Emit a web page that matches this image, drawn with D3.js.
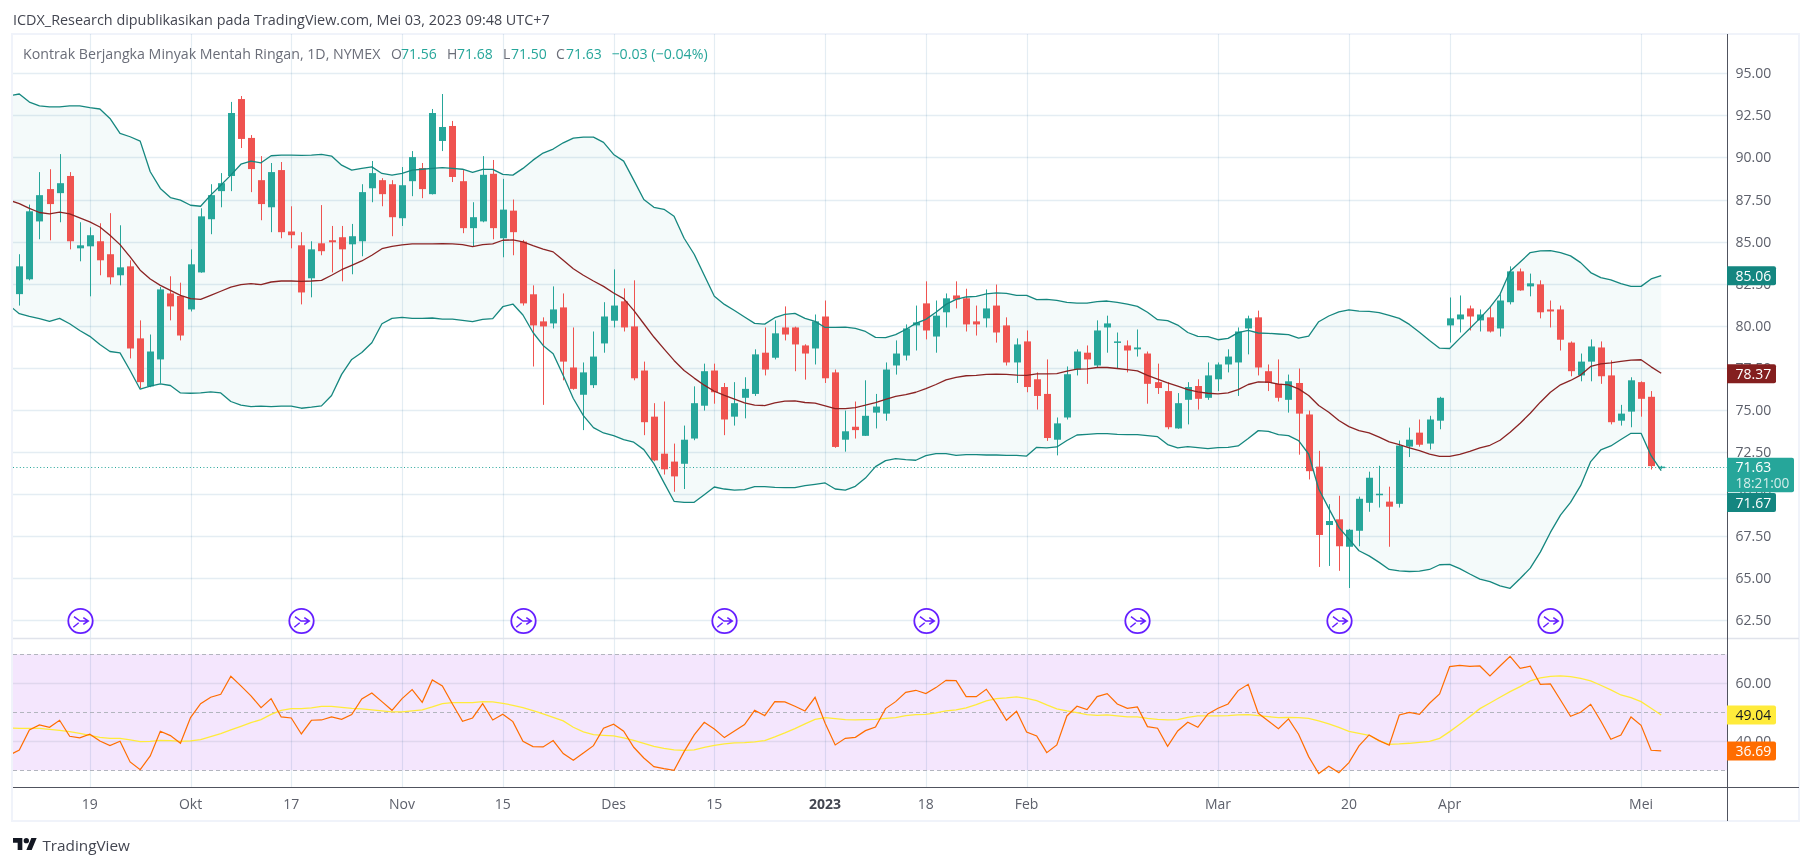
<!DOCTYPE html>
<html><head><meta charset="utf-8">
<script src="https://cdnjs.cloudflare.com/ajax/libs/d3/7.8.5/d3.min.js"></script>
<style>html,body{margin:0;padding:0;background:#fff;overflow:hidden}svg{display:block}text{font-family:"Open Sans","Liberation Sans",sans-serif}</style>
</head><body><svg id="c" width="1814" height="866"></svg>
<script>
const opens=[81.88,82.76,86.2,88.12,87.88,88.9,84.6,84.72,85.02,84.25,
83,83.53,79.25,76.4,78,81.92,81.77,80.97,83.17,86.33,
88,88.9,93.47,91.16,88.65,87.04,89.25,85.6,84.78,82.82,
84.9,85.08,85.26,84.84,85.02,88.17,88.65,88.41,86.39,88.59,
89.37,87.82,90.98,91.87,88.59,85.8,86.2,89.03,85.2,86.84,
85,81.87,80.26,80.14,81.09,77.52,75.9,76.47,78.95,80.3,
81.45,79.96,77.34,74.6,72.4,71.93,71.8,73.3,75.25,77.34,
76.36,74.6,75.72,75.95,78.4,78.1,79.9,79.9,78.83,78.65,
80.55,77.23,73.23,74,73.46,74.84,74.78,77.64,78.23,80.02,
81.33,79.36,80.8,81.8,81.63,80.26,80.44,81.2,80.02,77.82,
79.07,76.82,75.95,73.23,74.55,77.4,78.4,77.64,79.9,79.03,
78.83,78.6,78.35,76.65,76.12,73.9,75.6,76.42,75.72,76.82,
77.7,77.82,79.84,80.5,77.3,76.55,75.6,76.6,74.73,71.63,
68.16,68.5,66.87,67.82,69.48,69.96,69.55,69.42,72.82,73.65,
73,74.36,80.02,80.38,81.03,80.32,80.5,79.84,81.4,83.23,
82.34,82.46,80.97,80.97,79,77.05,77.87,78.71,77.05,74.36,
74.9,76.65,75.78,71.56];
const closes=[83.53,86.8,87.76,87.23,88.47,85.02,84.78,85.38,83.89,82.88,
83.47,78.65,76.65,78.47,82.16,81.15,79.42,83.65,86.5,87.76,
88.47,92.64,91.1,89.31,87.23,89.13,85.56,85.38,81.98,84.54,
84.43,84.96,84.54,85.32,87.94,89.07,87.82,86.45,88.35,90.02,
88.12,92.64,91.81,88.84,85.8,86.45,88.97,85.8,86.9,85.56,
81.33,80.02,79.96,80.97,77.87,76.25,77.23,78.17,80.55,81.2,
79.9,76.88,74.27,72,71.47,71.05,73.23,75.4,77.3,76.05,
74.43,75.4,76.25,78.3,77.4,79.55,79.48,78.89,78.35,80.26,
76.88,72.8,73.73,73.8,74.65,75.2,77.4,78.35,79.84,80.2,
79.72,80.6,81.63,81.56,80.08,80.08,81.03,79.6,77.82,78.89,
76.36,75.83,73.33,74.2,77.12,78.47,78,79.72,80.14,79.07,
78.53,78.71,76.55,76.3,73.97,75.4,76.36,75.66,77.05,77.7,
78.17,79.66,80.44,77.52,76.6,75.72,76.7,74.78,71.36,67.57,
68.4,66.9,67.88,69.72,70.97,70.02,69.25,72.88,73.23,72.93,
74.43,75.72,80.44,80.67,80.55,80.67,79.66,81.5,83.23,82.1,
82.52,80.8,80.85,79.17,77.3,77.87,78.77,77,74.27,74.78,
76.76,75.66,71.66,71.63];
const highs=[84.25,87.2,89.13,89.3,90.2,89.13,86.15,85.85,86.09,86.69,
85.97,83.89,80.32,79.48,82.3,82.94,82.56,84.54,86.98,88.41,
89.07,93.3,93.65,91.33,90.08,89.67,89.73,87.1,85.56,85.02,
87.17,85.93,85.93,86.05,88.41,89.79,88.77,88.65,89.43,90.38,
89.67,92.88,93.77,92.17,89.25,87.34,90.08,89.85,88.73,87.5,
85.1,82.4,80.5,82.34,81.92,79.9,77.82,79.66,81.4,83.35,
82.22,82.7,77.87,75.4,75.5,73,74.07,76.4,77.75,77.75,
76.6,76.65,76.94,78.6,79.9,80.32,81.15,79.95,78.9,80.67,
81.5,77.4,74.96,75.5,76.76,75.95,77.82,79.13,80.08,81.2,
82.64,81.5,81.92,82.64,82.2,81.2,82.16,82.45,80.5,79.25,
79.72,77.23,78,74.55,77.58,78.6,78.83,80.32,80.6,79.6,
79.13,79.78,78.47,77.75,76.65,76,76.65,76.82,77.82,77.82,
78.6,79.9,80.6,80.9,77.7,78,77.1,77.46,74.96,72.57,
69.4,69.9,67.93,69.85,71.33,71.68,70.44,73.18,73.95,74.43,
74.65,75.78,81.68,81.8,81.2,80.97,81.15,81.87,83.53,83.4,
83.1,82.7,81.5,81.2,79.07,78.35,79.19,79.07,77.94,75.3,
76.94,76.7,76.12,71.68];
const lows=[81.2,82.7,85.14,85.08,86.15,84.54,83.83,81.75,83,82.46,
82.4,78.06,76.3,76.35,76.58,80.32,79.13,80.85,83.15,85.44,
87.04,88,90.56,87.94,86.27,85.56,85.2,84.6,81.27,81.69,
84.19,83.17,82.64,83.06,84.13,87.34,87.1,85.32,85.93,87.7,
87.58,87.8,90.38,88.54,85.5,84.72,86.15,85.14,84.07,84.19,
81.2,77.58,75.3,79.84,76.76,76.2,73.8,76.3,78.4,79.9,
79.66,76.76,73.5,71.95,71.16,70.14,70.3,73.2,74.96,75.37,
73.5,74.07,74.5,75.83,77.05,78,79.13,77.3,76.8,77.7,
76.6,72.75,72.52,73.3,73.45,73.9,74.36,77.1,77.94,78.53,
79.19,78.4,79.9,81.03,79.66,79.42,79.9,79,77.64,76.6,
76.05,75.02,73.16,72.3,74.43,77.05,76.55,77.52,78.4,77.46,
77.23,78.17,75.37,75.95,73.85,73.88,74.14,75.02,75.6,76.12,
77.23,75.83,78.3,77.05,76.12,75.5,74.84,72.34,70.87,65.67,
65.73,65.44,64.42,66.9,68.95,69.2,66.87,69.2,72.2,72.82,
72.65,73.85,79,79.6,79.72,79.66,79.6,79.36,81.27,82.08,
81.75,80.44,79.9,78.53,77,76.7,76.7,76.55,74.14,74.07,
73.97,74.6,71.46,71.5];
const bbUpper=[93.67,93.77,93.29,93.06,93,93,93.06,93.06,92.96,92.88,92.32,
91.43,91.23,90.97,89.15,88.16,87.62,87.46,87.16,87.1,87.76,
88.35,88.95,89.6,89.78,89.68,90.1,90.14,90.14,90.12,90.14,
90.18,90.08,89.54,89.25,89.35,89.44,89.05,88.95,89.05,89.25,
89.3,89.35,89.39,89.35,89.3,89.11,89.29,89.29,88.99,88.95,
89.35,89.84,90.26,90.5,90.87,91.15,91.21,91.21,90.9,90.18,
89.78,88.65,87.5,87.04,86.92,86.51,85.2,84.25,83,81.75,
81.27,80.91,80.52,80.14,80.1,80.48,80.68,80.74,80.44,80.26,
79.9,79.9,79.92,79.84,79.66,79.31,79.29,79.47,79.78,80.14,
80.38,80.8,81.27,81.57,81.71,81.75,81.89,81.95,81.93,81.81,
81.81,81.55,81.57,81.51,81.39,81.35,81.35,81.43,81.47,81.39,
81.29,81.15,80.8,80.36,80.3,80.04,79.6,79.37,79.35,79.17,
79.25,79.59,79.72,79.57,79.55,79.51,79.47,79.27,79.39,80.24,
80.58,80.83,80.95,80.87,80.85,80.78,80.62,80.44,80.08,79.62,
79.13,78.67,78.65,79.25,79.84,80.44,81.09,81.87,83.24,83.79,
84.35,84.45,84.47,84.35,84.15,83.75,83.16,82.86,82.72,82.5,
82.34,82.34,82.78,82.98];
const bbBasis=[87.46,87.26,86.97,86.73,86.65,86.75,86.65,86.41,86.17,85.87,85.38,
84.82,84.09,83.3,82.78,82.4,82.1,81.81,81.61,81.57,81.81,
82.05,82.3,82.44,82.5,82.44,82.6,82.66,82.66,82.64,82.66,
82.7,83,83.33,83.59,83.85,84.19,84.58,84.72,84.8,84.86,
84.86,84.86,84.88,84.86,84.82,84.7,84.82,84.86,85.08,85.1,
84.98,84.76,84.56,84.39,83.89,83.39,83,82.66,82.34,81.95,
81.61,80.91,80.12,79.33,78.63,77.94,77.34,76.89,76.47,76.11,
75.86,75.64,75.42,75.28,75.26,75.42,75.52,75.54,75.44,75.4,
75.24,75.08,75.08,75.14,75.28,75.44,75.62,75.8,75.91,76.05,
76.27,76.51,76.79,76.93,77.03,77.05,77.11,77.12,77.11,77.07,
77.05,77.14,77.14,77.16,77.3,77.42,77.44,77.52,77.52,77.46,
77.4,77.32,77.05,76.83,76.61,76.41,76.21,76.07,75.99,75.95,
76.01,76.21,76.51,76.67,76.65,76.53,76.49,76.25,75.86,75.26,
74.86,74.37,74.01,73.77,73.63,73.38,73.1,72.94,72.74,72.58,
72.38,72.24,72.24,72.36,72.54,72.74,72.9,73.2,73.67,74.21,
74.8,75.46,76.05,76.49,76.75,77.07,77.58,77.74,77.8,77.88,
77.96,77.98,77.56,77.18];
const bbLower=[81.21,80.72,80.56,80.42,80.26,80.44,80.12,79.72,79.37,78.89,78.47,
78.39,77.34,76.23,76.41,76.55,76.45,76.01,75.99,76.01,76.07,
76.01,75.5,75.28,75.2,75.22,75.2,75.22,75.22,75.1,75.16,
75.24,75.86,77.11,78,78.41,78.99,80.12,80.44,80.5,80.44,
80.44,80.46,80.4,80.4,80.32,80.24,80.38,80.42,81.13,81.29,
80.64,79.6,78.83,78.34,77.05,75.68,74.66,73.95,73.63,73.47,
73.24,73.08,72.64,71.81,70.68,69.57,69.51,69.51,69.96,70.42,
70.3,70.24,70.26,70.44,70.44,70.4,70.38,70.38,70.5,70.58,
70.66,70.3,70.24,70.46,70.95,71.63,71.99,72.11,72.05,72.01,
72.28,72.4,72.4,72.3,72.34,72.34,72.32,72.32,72.3,72.3,
72.26,72.78,72.74,72.8,73.18,73.51,73.55,73.59,73.59,73.55,
73.53,73.53,73.47,73.41,72.94,72.74,72.82,72.76,72.7,72.76,
72.78,72.86,73.3,73.77,73.73,73.53,73.47,73.18,72.38,70.3,
69.15,68.02,67.32,66.63,66.33,65.94,65.52,65.44,65.4,65.42,
65.52,65.8,65.82,65.57,65.25,64.95,64.8,64.55,64.4,64.98,
65.6,66.55,67.72,68.75,69.51,70.5,71.93,72.62,72.86,73.24,
73.61,73.61,72.28,71.39];
const rsi=[35.18,37.02,43.91,45.64,44.83,47.25,41.73,41.16,42.42,40.12,38.51,
40,32.88,30.24,34.95,43.45,41.96,39.32,48.17,52.99,55.18,
56.21,62.42,59.09,55.64,51.61,54.72,48.4,48.05,42.53,47.25,
47.36,48.4,47.59,49.2,54.6,56.67,53.68,50.69,54.72,57.82,
53.45,61.15,59.09,52.88,46.9,48.05,52.99,47.36,49.31,46.79,
40,38.17,38.05,40.24,35.75,33.45,35.98,38.51,44.49,45.87,
43.45,37.94,34.26,31.27,30.58,30,36.44,42.19,46.56,44.26,
41.27,43.57,45.75,50.69,48.86,53.68,53.57,52.07,50.47,55.18,
46.21,38.74,41.04,41.38,43.68,44.95,51.27,53.68,56.9,57.59,
56.44,58.51,61.04,60.92,55.41,55.41,57.94,52.99,47.25,50.35,
43.22,41.84,36.1,38.74,48.74,52.07,50.92,55.41,56.44,52.88,
51.38,51.84,45.06,44.49,38.28,43.57,46.56,44.83,49.43,51.38,
52.88,57.48,59.66,49.66,47.02,44.37,47.71,42.42,34.72,28.86,
31.38,29.2,32.65,38.4,42.19,40.24,38.63,49.08,50,49.31,
53.11,56.33,65.75,66.21,65.87,65.98,62.53,65.98,69.32,65.18,
65.87,59.66,59.77,54.26,48.63,50,52.76,47.02,40.69,42.19,
48.4,45.52,36.9,36.69];
const rsiMa=[44.6,44.49,44.49,44.49,44.14,43.8,43.34,42.76,42.07,41.38,41.04,
41.04,40.47,39.89,40,40.35,40.24,40,40.12,40.58,41.61,
42.65,43.91,45.18,46.44,47.48,49.31,50.69,51.27,51.27,51.5,
52.07,52.07,51.73,51.38,51.15,50.81,50.47,50.12,50.12,50.47,
50.81,51.84,52.99,53.34,53.34,53.34,53.68,53.57,53.11,52.42,
51.61,50.58,49.43,48.28,47.02,44.83,43.22,42.3,42.07,41.84,
41.16,40.35,39.32,38.28,37.59,37.02,36.9,37.02,37.94,38.63,
39.09,39.43,39.55,39.78,40.24,41.5,42.88,44.37,45.98,47.59,
48.17,47.82,47.48,47.36,47.48,47.59,47.94,48.17,48.86,49.2,
49.31,49.77,50.47,50.81,51.5,52.65,53.91,54.72,54.95,55.29,
54.83,54.03,52.53,51.15,50.47,49.89,49.2,48.97,49.09,48.74,
48.4,48.4,47.94,47.59,47.36,47.48,48.28,48.74,48.74,48.74,
48.86,49.09,49.2,48.86,48.51,48.17,48.28,48.17,47.94,47.02,
45.98,44.83,43.45,42.76,42.07,40.12,38.97,39.09,39.32,39.66,
40,41.04,43.34,45.87,48.51,51.27,53.22,55.18,57.13,58.86,
60.81,61.84,62.42,62.53,62.3,61.73,60.81,59.32,57.71,55.98,
55.06,53.68,51.38,49.04];
const priceTicks=[95,92.5,90,87.5,85,82.5,80,77.5,75,72.5,70,67.5,65,62.5];
const rsiTicks=[60,40];
const rsiBands=[70,50,30];
const timeLabels=["19","Okt","17","Nov","15","Des","15","2023","18","Feb","Mar","20","Apr","Mei"];
const timeIndex=[7,17,27,38,48,59,69,80,90,100,119,132,142,161];
const eventIndex=[6,28,50,70,90,111,131,152];

const teal="#26a69a",red="#ef5350",bandCol="#15877f",basisCol="#8a2323",grid="#e4edf3",axis="#50535e",txt="#5d606b";
const svg=d3.select("#c");
const L=13,R=1727,FR=1799;
const x=d3.scaleLinear([0,163],[19.3,1661.2]);
const y=d3.scaleLinear([62.5,95],[620.3,73.3]);
const yr=d3.scaleLinear([30,70],[770.3,654.3]);
const defs=svg.append("defs");
defs.append("clipPath").attr("id","pane").append("rect").attr("x",L).attr("y",34).attr("width",R-L).attr("height",754);
const crisp=v=>Math.round(v)+.5;

// frame
svg.append("rect").attr("x",12).attr("y",34).attr("width",FR-12).attr("height",787).attr("fill","#fff").attr("stroke","#f0f3fa").attr("stroke-width",2);

// rsi background
svg.append("rect").attr("x",L).attr("width",R-L).attr("y",yr(70)).attr("height",yr(30)-yr(70)).attr("fill","#f4e6fd");

// grid
const gh=svg.append("g");
gh.selectAll("line").data(priceTicks).join("line").attr("x1",L).attr("x2",R)
 .attr("y1",d=>crisp(y(d))).attr("y2",d=>crisp(y(d))).attr("stroke",grid).attr("stroke-width",1.4);
svg.append("g").selectAll("line").data(rsiTicks).join("line").attr("x1",L).attr("x2",R)
 .attr("y1",d=>crisp(yr(d))).attr("y2",d=>crisp(yr(d))).attr("stroke","#e0d7ee").attr("stroke-width",1.4);
svg.append("g").selectAll("line").data(timeIndex).join("line")
 .attr("x1",d=>crisp(x(d))).attr("x2",d=>crisp(x(d))).attr("y1",34).attr("y2",787).attr("stroke",grid).attr("stroke-width",1.2).style("mix-blend-mode","multiply");
svg.append("line").attr("x1",L).attr("x2",FR).attr("y1",638.5).attr("y2",638.5).attr("stroke","#e0e3eb").attr("stroke-width",1.4);
svg.append("g").selectAll("line").data(rsiBands).join("line").attr("x1",L).attr("x2",R)
 .attr("y1",d=>crisp(yr(d))).attr("y2",d=>crisp(yr(d))).attr("stroke","#b2b5be").attr("stroke-width",1).attr("stroke-dasharray","4 3");

const pane=svg.append("g").attr("clip-path","url(#pane)");
const idx=(d,i)=>x(i-1);
// bollinger fill
pane.append("path").attr("fill","#26a69a").attr("fill-opacity",.05)
 .attr("d",d3.area().x((d,i)=>x(i-1)).y0((d,i)=>y(bbLower[i])).y1(d=>y(d))(bbUpper));
// price line
pane.append("line").attr("x1",L).attr("x2",R).attr("y1",crisp(y(closes[163]))).attr("y2",crisp(y(closes[163])))
 .attr("stroke",teal).attr("stroke-width",1).attr("stroke-dasharray","1 2.4");
const lineY=d3.line().x(idx).y(d=>y(d));
const lineR=d3.line().x(idx).y(d=>yr(d));
// candles
const bars=d3.range(opens.length).map(i=>({i,o:opens[i],c:closes[i],h:highs[i],l:lows[i]}));
const colr=d=>d.c>=d.o?teal:red;
pane.append("g").selectAll("rect").data(bars).join("rect")
 .attr("x",d=>Math.round(x(d.i))).attr("width",1)
 .attr("y",d=>y(d.h)).attr("height",d=>y(d.l)-y(d.h)).attr("fill",colr);
pane.append("g").selectAll("rect").data(bars).join("rect")
 .attr("x",d=>Math.round(x(d.i))-3).attr("width",7)
 .attr("y",d=>y(Math.max(d.o,d.c))).attr("height",d=>Math.max(1.5,Math.abs(y(d.o)-y(d.c)))).attr("fill",colr);
// bb lines
[[bbUpper,bandCol],[bbLower,bandCol],[bbBasis,basisCol]].forEach(([a,c])=>
 pane.append("path").attr("fill","none").attr("stroke",c).attr("stroke-width",1.3).attr("stroke-linejoin","round").attr("d",lineY(a)));
// rsi lines
pane.append("path").attr("fill","none").attr("stroke","#ffeb3b").attr("stroke-width",1.3).attr("d",lineR(rsiMa));
pane.append("path").attr("fill","none").attr("stroke","#ff6d00").attr("stroke-width",1.2).attr("d",lineR(rsi));

// event icons
const ev=svg.append("g").selectAll("g").data(eventIndex).join("g").attr("transform",d=>`translate(${Math.round(x(d))+.5},621)`)
 .attr("fill","none").attr("stroke","#651fff");
ev.append("circle").attr("r",12.2).attr("fill","#fff").attr("stroke-width",1.8);
ev.append("path").attr("stroke-width",1.5)
 .attr("d","M-6.5-4.3L-.5 0H7.8M2.8-3.3L7.8 0L2.8 3.3M-7.2 6.3L-1.8 1.7");

// axes lines
svg.append("line").attr("x1",L).attr("x2",FR).attr("y1",787.5).attr("y2",787.5).attr("stroke",axis).attr("stroke-width",1);
svg.append("line").attr("x1",R+.5).attr("x2",R+.5).attr("y1",34).attr("y2",821).attr("stroke",axis).attr("stroke-width",1);

const FS=14;
// price axis labels
const tx=1735.5;
svg.append("g").selectAll("text").data(priceTicks).join("text").attr("x",tx).attr("y",d=>y(d)).attr("dy","0.36em")
 .attr("font-size",FS).attr("fill",txt).text(d=>d.toFixed(2));
svg.append("g").selectAll("text").data(rsiTicks).join("text").attr("x",tx).attr("y",d=>yr(d)).attr("dy","0.36em")
 .attr("font-size",FS).attr("fill",txt).text(d=>d.toFixed(2));
// time labels
svg.append("g").selectAll("text").data(timeLabels).join("text")
 .attr("x",(d,i)=>x(timeIndex[i])).attr("y",804).attr("dy","0.36em").attr("text-anchor","middle")
 .attr("font-size",FS).attr("fill",d=>d==="2023"?"#434651":txt).attr("font-weight",d=>d==="2023"?700:400).text(d=>d);

// tags
const tagRows=[
 {t:"85.06",v:82.97,sc:y,f:"#148680",c:"#fff"},
 {t:"78.37",v:77.15,sc:y,f:"#841f1f",c:"#fff"},
 {t:"71.67",v:69.5,sc:y,f:"#148680",c:"#fff"},
 {t:"49.04",v:rsiMa[164],sc:yr,f:"#ffeb3b",c:"#131722"},
 {t:"36.69",v:rsi[164],sc:yr,f:"#ff6d00",c:"#fff"}];
const tg=svg.append("g").selectAll("g").data(tagRows).join("g");
tg.append("path").attr("fill",d=>d.f).attr("d",d=>{const c=d.sc(d.v);return `M${R} ${c-9.5}H1774a2 2 0 0 1 2 2V${c+7.5}a2 2 0 0 1-2 2H${R}Z`});
tg.append("text").attr("x",tx).attr("y",d=>d.sc(d.v)).attr("dy","0.36em").attr("font-size",FS).attr("fill",d=>d.c).text(d=>d.t);
const lastY=y(closes[163]);
svg.append("path").attr("fill",teal).attr("d",`M${R} ${lastY-9}H1792a2 2 0 0 1 2 2V${lastY+23.5}a2 2 0 0 1-2 2H${R}Z`);
svg.append("text").attr("x",tx).attr("y",lastY).attr("dy","0.36em").attr("font-size",FS).attr("fill","#fff").text(closes[163].toFixed(2));
svg.append("text").attr("x",tx).attr("y",lastY+16).attr("dy","0.36em").attr("font-size",13.6).attr("fill","#d4edea").text("18:21:00");

// title & legend
svg.append("text").attr("x",13).attr("y",20).attr("dy","0.36em").attr("font-size",14.4).attr("fill","#434651")
 .text("ICDX_Research dipublikasikan pada TradingView.com, Mei 03, 2023 09:48 UTC+7");
const leg=[["Kontrak Berjangka Minyak Mentah Ringan, 1D, NYMEX",23,"#6a6d78",14.2],["O",391,"#6a6d78",14],["71.56",401,teal,14],["H",447,"#6a6d78",14],["71.68",457,teal,14],["L",503,"#6a6d78",14],["71.50",511,teal,14],["C",556,"#6a6d78",14],["71.63",566,teal,14],["−0.03 (−0.04%)",611.5,teal,14.2]];
svg.append("g").selectAll("text").data(leg).join("text").attr("x",d=>d[1]).attr("y",54).attr("dy","0.36em")
 .attr("font-size",d=>d[3]).attr("fill",d=>d[2]).text(d=>d[0]);

// logo
const logo=svg.append("g").attr("transform","translate(13,835.3) scale(.667)").attr("fill","#131722");
logo.append("path").attr("d","M14 22H7V11H0V4h14v18zM28 22h-8l7.5-18h8L28 22z");
logo.append("circle").attr("cx",20).attr("cy",8).attr("r",4);
svg.append("text").attr("x",42.4).attr("y",845).attr("dy","0.36em").attr("font-size",15.3).attr("fill","#434651").text("TradingView");
</script></body></html>
